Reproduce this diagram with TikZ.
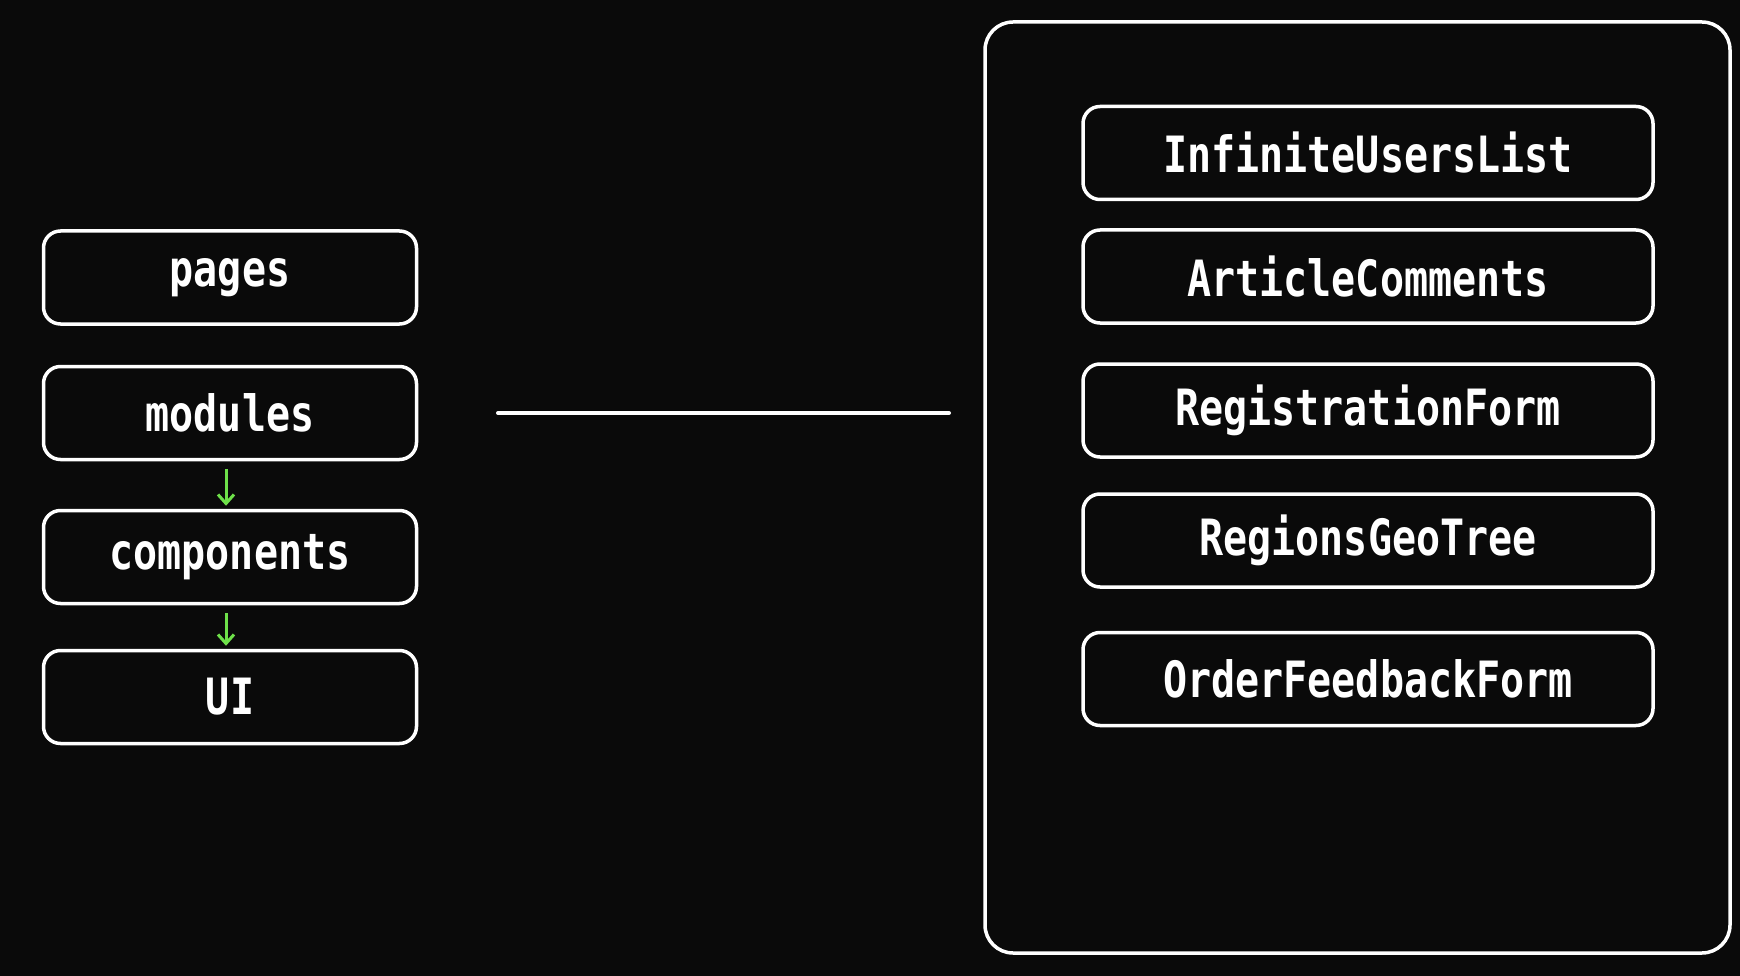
\documentclass[tikz,border=0pt]{standalone}
\usepackage{fontspec}
\usetikzlibrary{arrows.meta}
\newfontfamily\pixfont{DejaVu Sans Mono}
\definecolor{bgc}{HTML}{0A0A0A}
\definecolor{grn}{HTML}{6EE04A}
\newcommand{\lbl}[1]{\scalebox{1}[1.25]{#1}}
\tikzset{
  box/.style={draw=white, line width=3.5pt, rounded corners=17pt, fill=bgc,
    minimum width=373pt, minimum height=93pt, inner sep=0pt,
    text=white, font=\pixfont\bfseries\fontsize{40}{40}\selectfont},
  rbox/.style={box, minimum width=570pt},
  frame/.style={draw=white, line width=3.5pt, rounded corners=28pt,
    minimum width=745pt, minimum height=931pt, inner sep=0pt},
  dep/.style={draw=grn, line width=3pt, -{Straight Barb[length=9pt,width=16pt,line width=3pt]}},
  link/.style={draw=white, line width=4pt, line cap=round}
}
\begin{document}
\begin{tikzpicture}[x=1pt,y=-1pt]
\fill[bgc] (0,0) rectangle (1740,976);
\useasboundingbox (0,0) rectangle (1740,976);
% left stack
\node[box] (pages) at (230,277.5) {\lbl{pages}};
\node[box] (modules) at (230,413) {\lbl{modules}};
\node[box] (components) at (230,557) {\lbl{components}};
\node[box] (ui) at (230,697) {\lbl{UI}};
\draw[dep, shorten <=8pt, shorten >=3pt] ([xshift=-4pt]modules.south) -- ([xshift=-4pt]components.north);
\draw[dep, shorten <=8pt, shorten >=3pt] ([xshift=-4pt]components.south) -- ([xshift=-4pt]ui.north);
% connector line
\coordinate (lineL) at (498,413);
\coordinate (lineR) at (949,413);
\draw[link] (lineL) -- (lineR);
% right container
\node[frame] (container) at (1357.5,487.5) {};
\node[rbox] (r1) at (1368,153) {\lbl{InfiniteUsersList}};
\node[rbox] (r2) at (1368,276.5) {\lbl{ArticleComments}};
\node[rbox] (r3) at (1368,410.5) {\lbl{RegistrationForm}};
\node[rbox] (r4) at (1368,540.5) {\lbl{RegionsGeoTree}};
\node[rbox] (r5) at (1368,679) {\lbl{OrderFeedbackForm}};
\end{tikzpicture}
\end{document}
